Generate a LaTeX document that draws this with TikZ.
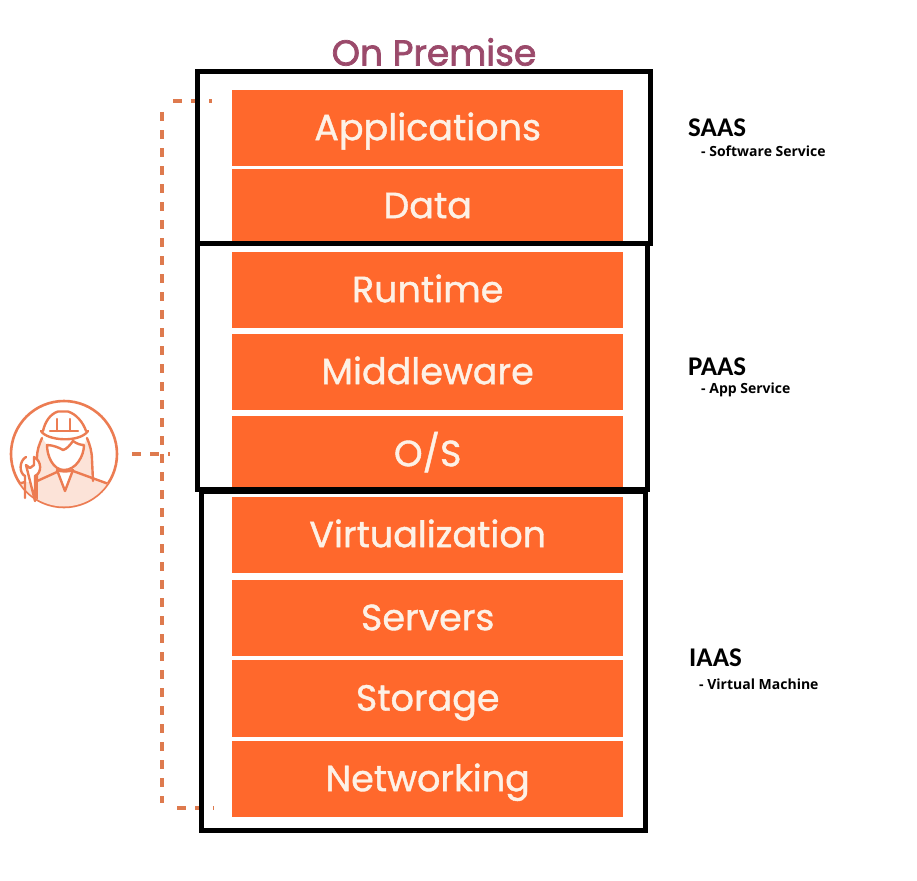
\documentclass[tikz,border=0pt]{standalone}
\usepackage{fontspec}
\setmainfont{Poppins}
\newfontfamily\boxfont[FakeBold=1.1]{Poppins}
\newfontfamily\titlefont[FakeBold=2]{Poppins}
\newfontfamily\labelfont{Carlito}
\newfontfamily\subfont{Open Sans}
\definecolor{boxfill}{HTML}{FF682C}
\definecolor{boxtext}{HTML}{FDF1E6}
\definecolor{titlecol}{HTML}{9B4A6B}
\definecolor{dashcol}{HTML}{DE7A4E}
\definecolor{iconcol}{HTML}{EC7C52}
\definecolor{iconfill}{HTML}{FCE3D8}
\tikzset{
  x=1pt,y=-1pt,
  stackbox/.style={fill=boxfill,draw=none,minimum width=391pt,anchor=north west,inner sep=0pt,text=boxtext,text height=24pt,text depth=0pt,font=\boxfont\fontsize{36.5}{40}\selectfont},
  layer/.style={draw=black,line width=5pt,fill=none},
  conn/.style={draw=dashcol,line width=4.7pt,dash pattern=on 8.5pt off 9.5pt},
  icon/.style={draw=iconcol,line width=2.4pt,line join=round,line cap=round},
  head/.style={font=\labelfont\bfseries\fontsize{27}{30}\selectfont,anchor=west,inner sep=0pt},
  sub/.style={font=\subfont\bfseries\fontsize{14}{16}\selectfont,anchor=west,inner sep=0pt},
}
\begin{document}
\begin{tikzpicture}
\useasboundingbox (0,0) rectangle (917,880);
\fill[white] (0,0) rectangle (917,880);
\node[text=titlecol,font=\titlefont\fontsize{36}{40}\selectfont,inner sep=0pt,text height=23pt,text depth=0pt] (title) at (434,54) {On Premise};
% stack
\node[stackbox,minimum height=76pt] (apps) at (232,90) {Applications};
\node[stackbox,minimum height=74pt] (data) at (232,169) {Data};
\node[stackbox,minimum height=76pt] (run) at (232,252) {Runtime};
\node[stackbox,minimum height=76pt] (mid) at (232,334) {Middleware};
\node[stackbox,minimum height=76pt] (os) at (232,416) {O/S};
\node[stackbox,minimum height=76pt] (virt) at (232,497) {Virtualization};
\node[stackbox,minimum height=76pt] (serv) at (232,580) {Servers};
\node[stackbox,minimum height=77pt] (stor) at (232,660) {Storage};
\node[stackbox,minimum height=76pt] (net) at (232,741) {Networking};
% connectors
\coordinate (ctopa) at (173,101);
\coordinate (ctopb) at (212,101);
\coordinate (cva) at (162,112);
\coordinate (cvb) at (162,803);
\coordinate (cbota) at (177,808);
\coordinate (cbotb) at (214,808);
\coordinate (cmida) at (132,454);
\coordinate (cmidb) at (170,454);
\draw[conn] (ctopa) -- (ctopb);
\draw[conn] (cva) -- (cvb);
\draw[conn] (cbota) -- (cbotb);
\draw[conn] (cmida) -- (cmidb);
% icon
\node[circle,draw=iconcol,line width=2.6pt,minimum size=106pt,inner sep=0pt] (person) at (64,454) {};
\begin{scope}
\clip (64,454) circle (52.5);
\fill[iconfill] (15,485) -- (25,482) -- (35,482) -- (57,472) -- (65,491) -- (73,471) -- (110,484) -- (110,520) -- (10,520) -- cycle;
\fill[iconfill] (42,438) .. controls (39,445) and (37,450) .. (37,458) -- (37,481) -- (57,472) -- (47,445) -- cycle;
\fill[iconfill] (87,438) .. controls (90,445) and (92,452) .. (92,460) -- (93,481) -- (73,471) -- (84,445) -- cycle;
\draw[icon] (14,485) -- (25,482);
\draw[icon] (73,471) -- (110,484.5);
\draw[icon] (57,472) -- (35,482);
\draw[icon] (37,481) -- (37,505);
\end{scope}
\draw[icon] (43,431) .. controls (45,422) and (50,414) .. (58,411.5) -- (68,411.5) .. controls (76,414) and (83,422) .. (86,431);
\draw[icon] (41,431) .. controls (47,441) and (80,443) .. (88,431);
\draw[icon] (50,431) -- (78,431) (57,419) -- (57,431) (70,419) -- (70,431);
\draw[icon] (42,438) .. controls (39,445) and (37,450) .. (37,458) -- (37,481);
\draw[icon] (87,438) .. controls (90,445) and (92,452) .. (92,460) -- (93,481);
\draw[icon,fill=white] (47,445) .. controls (53,445) and (60,448) .. (63,450) .. controls (67,449) and (70,445) .. (73,441) .. controls (77,444) and (81,445) .. (84,445) .. controls (84,456) and (76,470) .. (64,470) .. controls (53,470) and (47,456) .. (47,445) -- cycle;
\draw[icon,fill=white] (57,470) -- (65,491) -- (73,470) .. controls (68,472) and (62,472) .. (57,470);
\draw[icon,fill=white] (26,457) .. controls (19,461) and (19,473) .. (25,476) -- (25,498) (35,501) -- (35,476) .. controls (42,473) and (42,461) .. (34,457) -- (34,465) -- (30,468) -- (26,465) -- cycle;
% layers
\draw[layer] (197.5,72) rectangle (650,243.5);
\draw[layer] (197.5,243.5) rectangle (647.5,489.5);
\draw[layer] (201.5,491) rectangle (645,830.5);
% labels
\node[head] (saas) at (688,128) {SAAS};
\node[sub] (saassub) at (701,151) {- Software Service};
\node[head] (paas) at (688,366.5) {PAAS};
\node[sub] (paassub) at (701,389.5) {- App Service};
\node[head] (iaas) at (689,657.5) {IAAS};
\node[sub] (iaassub) at (699,684) {- Virtual Machine};
\end{tikzpicture}
\end{document}
